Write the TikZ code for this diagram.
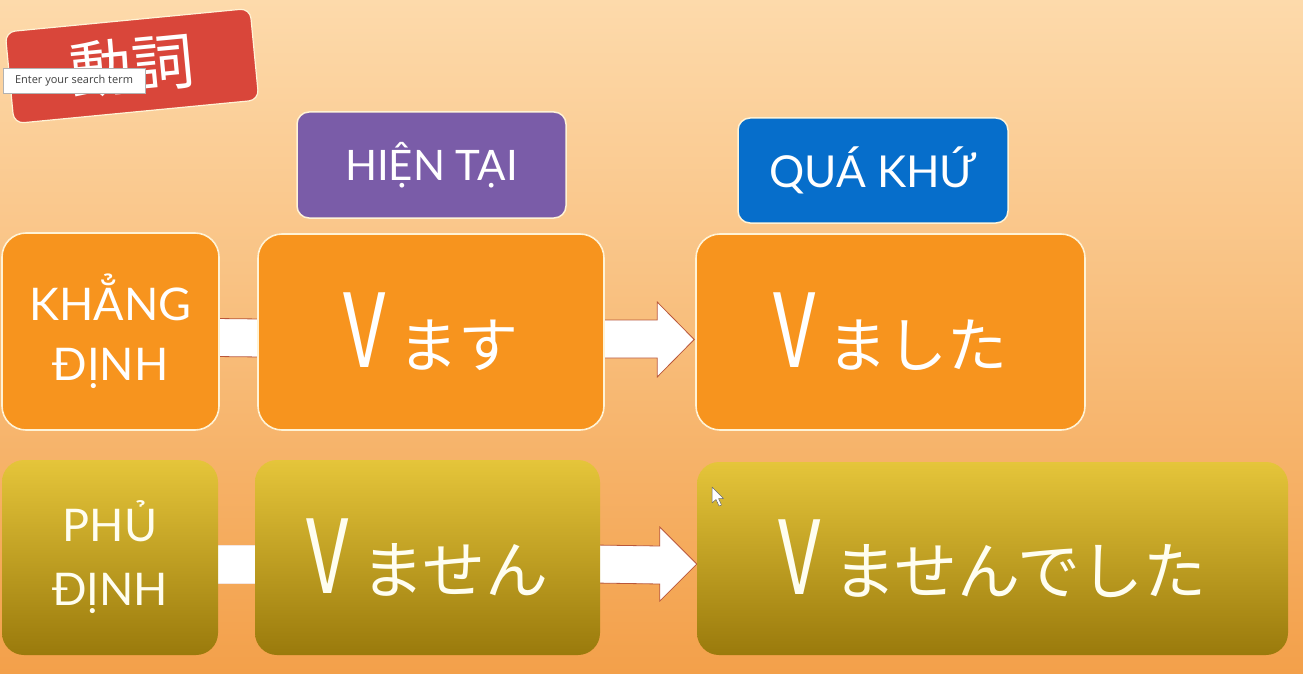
\documentclass[tikz,border=0pt]{standalone}
\usepackage{fontspec}
\usepackage{graphicx}
\setmainfont{Lato}
\newfontfamily\jp{Noto Sans CJK JP}
\newfontfamily\uifont{Open Sans}
\usetikzlibrary{calc}

\definecolor{bgtop}{HTML}{FDDAAB}
\definecolor{bgbot}{HTML}{F3A04A}
\definecolor{boxorange}{HTML}{F7941E}
\definecolor{olivetop}{HTML}{E5C53A}
\definecolor{olivebot}{HTML}{9A7A0C}
\definecolor{purplebox}{HTML}{7A5CA8}
\definecolor{bluebox}{HTML}{066ECB}
\definecolor{labelred}{HTML}{D9463A}
\definecolor{arrowline}{HTML}{B9573A}
\definecolor{rimcream}{HTML}{FFF3D6}

% tall, narrow V followed by the kana ending
\newcommand{\bigV}{\scalebox{0.72}[1]{\fontsize{102}{102}\selectfont V}}
\newcommand{\verbform}[2][60]{{\jp\bigV\hspace{12pt}\fontsize{#1}{#1}\selectfont #2}}

\pgfdeclarelayer{bg}
\pgfdeclarelayer{mid}
\pgfsetlayers{bg,mid,main}

\tikzset{
  posbox/.style={draw=rimcream, line width=1.6pt, fill=boxorange,
    rounded corners=24pt, text=white, inner sep=0pt},
  negbox/.style={rounded corners=22pt, top color=olivetop,
    bottom color=olivebot, text=white!94!yellow, inner sep=0pt},
  tensebox/.style={draw=rimcream, line width=1.5pt, rounded corners=12pt,
    text=white, inner sep=0pt},
  rowlabel/.style={align=center, font=\fontsize{45}{60}\selectfont},
  blockarrow/.style={fill=white, draw=arrowline, line width=0.8pt, line join=miter},
  barfill/.style={fill=white, draw=none},
  barrim/.style={draw=arrowline, line width=0.8pt},
}

\begin{document}
\begin{tikzpicture}[x=1pt, y=-1pt]
\useasboundingbox (0,0) rectangle (1303,674);

\begin{pgfonlayer}{bg}
  \shade[top color=bgtop, bottom color=bgbot] (0,0) rectangle (1303,674);
\end{pgfonlayer}

% column headings
\node[tensebox, fill=purplebox, minimum width=269pt, minimum height=106pt,
      font=\fontsize{42}{42}\selectfont] (hientai) at (431.5,165) {HIỆN TẠI};
\node[tensebox, fill=bluebox, minimum width=270pt, minimum height=105pt,
      font=\fontsize{44}{44}\selectfont] (quakhu) at (873,170.5) {QUÁ KHỨ};

% affirmative row
\node[posbox, rowlabel, minimum width=217pt, minimum height=197pt]
      (khang) at (110.5,331.5) {KHẲNG\\ĐỊNH};
\node[posbox, minimum width=346pt, minimum height=196pt]
      (vmasu) at (431,332) {\verbform{ます}};
\node[posbox, minimum width=389pt, minimum height=196pt]
      (vmashita) at (890.5,332) {\verbform{ました}};

% negative row
\node[negbox, rowlabel, font=\fontsize{45}{64}\selectfont,
      minimum width=216pt, minimum height=195pt]
      (phu) at (110,557.5) {PHỦ\\ĐỊNH};
\node[negbox, minimum width=345pt, minimum height=195pt]
      (vmasen) at (427.5,557.5) {\verbform[63]{ません}};
\node[negbox, minimum width=591pt, minimum height=193pt]
      (vmasendeshita) at (992.5,558.5) {\verbform[63]{ませんでした}};

% connectors, kept under the boxes
\begin{pgfonlayer}{mid}
  % label -> present (plain bars)
  \fill[barfill] ($(khang.east)+(-4,-13)$) rectangle ($(vmasu.west)+(4,25)$);
  \draw[barrim] ($(khang.east)+(-4,-13)$) -- ($(vmasu.west)+(4,-13)$);
  \draw[barrim] ($(khang.east)+(-4,25)$) -- ($(vmasu.west)+(4,25)$);
  \path[fill=white, draw=white!85!arrowline, line width=0.6pt]
        ($(phu.east)+(-2,-12.5)$) rectangle ($(vmasen.west)+(2,25.5)$);

  % present -> past (block arrows)
  \path[blockarrow]
    ($(vmasu.east)+(-6,-12)$) -- ($(vmashita.west)+(-38,-12)$)
    -- ($(vmashita.west)+(-38,-30)$) -- ($(vmashita.west)+(-1,7.5)$)
    -- ($(vmashita.west)+(-38,45)$) -- ($(vmashita.west)+(-38,26)$)
    -- ($(vmasu.east)+(-6,26)$) -- cycle;
  \path[blockarrow]
    ($(vmasen.east)+(-6,-12.5)$) -- ($(vmasendeshita.west)+(-37,-12.5)$)
    -- ($(vmasendeshita.west)+(-37,-31.5)$) -- ($(vmasendeshita.west)+(0,5.5)$)
    -- ($(vmasendeshita.west)+(-37,42.5)$) -- ($(vmasendeshita.west)+(-37,25.5)$)
    -- ($(vmasen.east)+(-6,25.5)$) -- cycle;
\end{pgfonlayer}

% tilted title tag
\node[rotate=5.5, fill=labelred, draw=rimcream, line width=1.2pt,
      rounded corners=10pt, minimum width=246pt, minimum height=92pt,
      text=white, font=\jp\fontsize{62}{62}\selectfont] (verb) at (132,66)
      {\raisebox{-5pt}{動詞}};

% search tooltip over the tag
\node[draw=gray!60, fill=white, inner sep=0pt, minimum width=142pt,
      minimum height=25pt, text=black!75,
      font=\uifont\fontsize{11}{11}\selectfont] (tip) at (74,80.5)
      {Enter your search term};

% pointer
\path[fill=white, draw=black!60, line width=0.5pt, line join=round]
  (712,487) -- (712,503) -- (716,499.5) -- (719,506) -- (721.5,505)
  -- (718.5,498.5) -- (723.5,498.5) -- cycle;

\end{tikzpicture}
\end{document}
